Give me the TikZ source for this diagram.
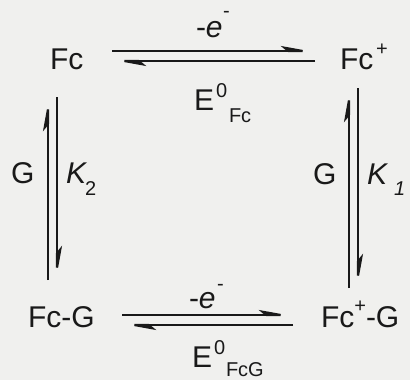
\documentclass[tikz,border=0pt]{standalone}
\usepackage{fontspec}
\setmainfont{Liberation Sans}
\usetikzlibrary{arrows.meta}
\definecolor{bg}{RGB}{240,240,238}
\definecolor{ink}{RGB}{25,25,25}
\begin{document}
\begin{tikzpicture}[x=1pt,y=-1pt,
  lbl/.style={inner sep=0pt, outer sep=0pt, anchor=base west, text=ink, font=\fontsize{30}{36}\selectfont},
  sm/.style={inner sep=0pt, outer sep=0pt, anchor=base west, text=ink, font=\fontsize{20}{24}\selectfont},
  hp/.style={draw=ink, line width=2.2pt, -{Stealth[harpoon,length=28pt,width=10pt,inset=6pt]}}]
\fill[bg] (0,0) rectangle (410,380);
\useasboundingbox (0,0) rectangle (410,380);
% species
\node[lbl] (fc) at (50,69) {Fc};
\node[lbl] (fcp) at (340,69) {Fc};
\node[sm] (fcpsup) at (376,56) {+};
\node[lbl] (fcg) at (28,327) {Fc-G};
\node[lbl] (fcpg) at (321,327) {Fc\raisebox{15pt}{\fontsize{20}{24}\selectfont +}-G};
% top labels
\node[lbl] (me1) at (196,37) {-\textit{e}};
\node[sm] (me1s) at (223,17) {-};
\node[lbl] (e1) at (194,110) {E};
\node[sm] (e1z) at (216,97) {0};
\node[sm] (e1f) at (229,122) {Fc};
% bottom labels
\node[lbl] (me2) at (189,308) {-\textit{e}};
\node[sm] (me2s) at (217,290.5) {-};
\node[lbl] (e2) at (192,367) {E};
\node[sm] (e2z) at (214,354) {0};
\node[sm] (e2f) at (226,376) {FcG};
% side labels
\node[lbl] (gl) at (11,183) {G};
\node[lbl] (kl) at (66,183) {\textit{K}};
\node[sm] (kls) at (85,195) {2};
\node[lbl] (gr) at (313,184) {G};
\node[lbl] (kr) at (367,184) {\textit{K}};
\node[sm] (krs) at (394,195) {\textit{1}};
% connector ends
\coordinate (t1) at (112,51); \coordinate (t2) at (315,51);
\coordinate (t3) at (315,61); \coordinate (t4) at (112,61);
\coordinate (b1) at (122,315); \coordinate (b2) at (293,315);
\coordinate (b3) at (293,325); \coordinate (b4) at (122,325);
\coordinate (l1) at (48,280); \coordinate (l2) at (48,97);
\coordinate (l3) at (57,97); \coordinate (l4) at (57,280);
\coordinate (r1) at (349,288); \coordinate (r2) at (349,88);
\coordinate (r3) at (358,88); \coordinate (r4) at (358,288);
% equilibrium harpoons
\draw[hp] (t1) -- (t2);
\draw[hp] (t3) -- (t4);
\draw[hp] (b1) -- (b2);
\draw[hp] (b3) -- (b4);
\draw[hp] (l1) -- (l2);
\draw[hp] (l3) -- (l4);
\draw[hp] (r1) -- (r2);
\draw[hp] (r3) -- (r4);
\end{tikzpicture}
\end{document}
